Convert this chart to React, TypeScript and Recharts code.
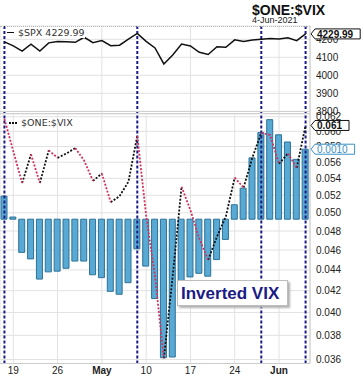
import {
  ComposedChart,
  Line,
  Bar,
  XAxis,
  YAxis,
  CartesianGrid,
  ReferenceLine,
  LabelList,
} from "recharts";

const dates = [
  "Apr 16", "Apr 19", "Apr 20", "Apr 21", "Apr 22", "Apr 23",
  "Apr 26", "Apr 27", "Apr 28", "Apr 29", "Apr 30",
  "May 3", "May 4", "May 5", "May 6", "May 7",
  "May 10", "May 11", "May 12", "May 13", "May 14",
  "May 17", "May 18", "May 19", "May 20", "May 21",
  "May 24", "May 25", "May 26", "May 27", "May 28",
  "Jun 1", "Jun 2", "Jun 3", "Jun 4",
];

const spx = [
  4185.5, 4163.3, 4134.9, 4173.4, 4135.0, 4180.2,
  4187.6, 4186.7, 4183.2, 4211.5, 4181.2,
  4192.7, 4164.7, 4167.6, 4201.6, 4232.6,
  4188.4, 4152.1, 4063.0, 4112.5, 4173.9,
  4163.3, 4127.8, 4115.7, 4159.1, 4155.9,
  4197.1, 4188.1, 4196.0, 4200.9, 4204.1,
  4202.0, 4208.1, 4192.9, 4229.99,
];

// $ONE:$VIX (inverted VIX)
const ratio = [
  0.0617, 0.0574, 0.05345, 0.0570, 0.05345, 0.0575,
  0.05655, 0.0571, 0.0578, 0.0562, 0.0537,
  0.0546, 0.0512, 0.0519, 0.0536, 0.0594,
  0.0497, 0.0434, 0.0361, 0.0434, 0.0530,
  0.0503, 0.0472, 0.0450, 0.0474, 0.0496,
  0.0541, 0.0529, 0.0566, 0.0598, 0.0595,
  0.0558, 0.0571, 0.0553, 0.0608,
];

// histogram overlay
const histo = [
  0.00032, 0.00003, -0.00046, -0.00055, -0.00083, -0.00073,
  -0.00072, -0.00068, -0.00058, -0.00058, -0.00077,
  -0.00081, -0.001, -0.00104, -0.00088, -0.00041,
  -0.00065, -0.0011, -0.00192, -0.00191, -0.00099,
  -0.0008, -0.00075, -0.00079, -0.00056, -0.00028,
  0.0002, 0.00043, 0.00085, 0.0012, 0.00138,
  0.00117, 0.00107, 0.00083, 0.00097,
];

const markerDates = ["Apr 16", "May 7", "May 27", "Jun 4"];
const xTicks = ["Apr 19", "Apr 26", "May 3", "May 10", "May 17", "May 24", "Jun 1"];
const xTickText = ["19", "26", "May", "10", "17", "24", "Jun"];
const spxTicks = [3800, 3900, 4000, 4100, 4200];
const ratioTicks = [
  0.036, 0.038, 0.04, 0.042, 0.044, 0.046, 0.048,
  0.05, 0.052, 0.054, 0.056, 0.058, 0.06, 0.062,
];

const FONT = "'Liberation Sans', Arial, sans-serif";
const NAVY = "#1b1b86";
const GRID = "#e2e2e2";
const W = 363;
const AXIS_W = 53;
const LAST = dates.length - 1;

const spxRows = dates.map((date, i) => ({ date, spx: spx[i] }));

// split the dotted line into rising (black) and falling (red) runs
const ratioRows: Record<string, any>[] = dates.map((date, i) => ({
  date,
  ratio: ratio[i],
  histo: histo[i],
}));
{
  let prev = "";
  let key = "";
  const count: Record<string, number> = { up: 0, down: 0 };
  for (let i = 0; i < LAST; i++) {
    const dir = ratio[i + 1] >= ratio[i] ? "up" : "down";
    if (dir !== prev) {
      key = dir + (count[dir]++ % 2);
      prev = dir;
    }
    ratioRows[i][key] = ratio[i];
    ratioRows[i + 1][key] = ratio[i + 1];
  }
}

function Tag({ y, text, color, bold }: { y: number; text: string; color: string; bold?: boolean }) {
  const left = 311;
  const h = 10;
  const w = text.length * 5.6 + 10;
  return (
    <g>
      <path
        d={`M${left},${y} L${left + 4},${y - h / 2} L${left + w},${y - h / 2} L${left + w},${y + h / 2} L${left + 4},${y + h / 2} Z`}
        fill="#fff"
        stroke={color}
      />
      <text x={left + 6} y={y + 3.6} fontSize={10} fontWeight={bold ? "bold" : "normal"} fill={color} fontFamily={FONT}>
        {text}
      </text>
    </g>
  );
}

function DateTick({ x, y, payload }: any) {
  const text = xTickText[xTicks.indexOf(payload.value)];
  const month = isNaN(Number(text));
  return (
    <text x={x} y={y} dy={10.5} textAnchor="middle" fontSize={10} fontWeight={month ? "bold" : "normal"} fill="#222" fontFamily={FONT}>
      {text}
    </text>
  );
}

const yTick = { fontSize: 10, fill: "#222", fontFamily: FONT };

export default function App() {
  return (
    <div style={{ position: "absolute", left: 0, top: 0, width: W, height: 381, background: "#fff", fontFamily: FONT }}>
      <div style={{ position: "absolute", left: 0, top: 0 }}>
        <ComposedChart width={W} height={120} data={spxRows} margin={{ top: 26, right: 0, bottom: 6, left: 0 }}>
          <CartesianGrid stroke={GRID} />
          <XAxis dataKey="date" scale="band" ticks={xTicks} hide />
          <YAxis
            orientation="right"
            width={AXIS_W}
            domain={[3785, 4274]}
            ticks={spxTicks}
            interval={0}
            allowDataOverflow
            axisLine={{ stroke: "#ccc" }}
            tickLine={false}
            tickSize={0}
            tickMargin={6}
            tick={yTick}
          />
          {markerDates.map((d) => (
            <ReferenceLine key={d} x={d} stroke={NAVY} strokeWidth={2} strokeDasharray="3 2" />
          ))}
          <Line dataKey="spx" stroke="#111" strokeWidth={1.5} dot={false} isAnimationActive={false}>
            <LabelList
              dataKey="spx"
              content={(p: any) =>
                p.index === LAST ? <Tag y={p.y} text="4229.99" color="#111" bold /> : null
              }
            />
          </Line>
        </ComposedChart>
      </div>

      <div style={{ position: "absolute", left: 0, top: 106 }}>
        <ComposedChart width={W} height={275} data={ratioRows} margin={{ top: 7.5, right: 0, bottom: 0, left: 0 }}>
          <CartesianGrid stroke={GRID} yAxisId="ratio" />
          <XAxis
            dataKey="date"
            scale="band"
            ticks={xTicks}
            height={17.5}
            axisLine={{ stroke: "#ccc" }}
            tickLine={false}
            tickSize={0}
            tickMargin={0}
            tick={<DateTick />}
            interval={0}
          />
          <YAxis yAxisId="histo" hide domain={[-0.002, 0.001465]} allowDataOverflow />
          <YAxis
            yAxisId="ratio"
            orientation="right"
            width={AXIS_W}
            scale="log"
            domain={[0.03568, 0.06245]}
            ticks={ratioTicks}
            interval={0}
            allowDataOverflow
            axisLine={{ stroke: "#ccc" }}
            tickLine={false}
            tickSize={0}
            tickMargin={6}
            tick={yTick}
            tickFormatter={(v: number) => v.toFixed(3)}
          />
          {markerDates.map((d) => (
            <ReferenceLine key={d} x={d} yAxisId="ratio" stroke={NAVY} strokeWidth={2} strokeDasharray="3 2" />
          ))}
          <Bar yAxisId="histo" dataKey="histo" barSize={6} fill="#58a9d3" stroke="#2d7299" strokeWidth={1} isAnimationActive={false}>
            <LabelList
              dataKey="histo"
              content={(p: any) =>
                p.index === LAST ? <Tag y={p.y} text="0.0010" color="#3b8fc4" /> : null
              }
            />
          </Bar>
          {["up0", "up1"].map((k) => (
            <Line key={k} yAxisId="ratio" dataKey={k} stroke="#111" strokeWidth={1.8} strokeDasharray="2 1.6" dot={false} isAnimationActive={false} />
          ))}
          {["down0", "down1"].map((k) => (
            <Line key={k} yAxisId="ratio" dataKey={k} stroke="#d2315c" strokeWidth={1.8} strokeDasharray="2 1.6" dot={false} isAnimationActive={false} />
          ))}
          <Line yAxisId="ratio" dataKey="ratio" stroke="none" dot={false} isAnimationActive={false}>
            <LabelList
              dataKey="ratio"
              content={(p: any) =>
                p.index === LAST ? <Tag y={p.y} text="0.061" color="#111" bold /> : null
              }
            />
          </Line>
        </ComposedChart>
      </div>

      {/* panel edges */}
      <div style={{ position: "absolute", left: 0, top: 26, width: 310, borderTop: "1px dotted #bbb" }} />
      <div style={{ position: "absolute", left: 0, top: 111, width: 310, height: 1, borderTop: "1px solid #d0d0d0", borderBottom: "1px solid #d0d0d0" }} />

      {/* title */}
      <div style={{ position: "absolute", left: 252, top: 2, fontSize: 14, fontWeight: "bold", fontFamily: "'Liberation Sans Narrow', 'Liberation Sans', Arial", color: "#111", whiteSpace: "nowrap" }}>
        $ONE:$VIX
      </div>
      <div style={{ position: "absolute", left: 252, top: 15, fontSize: 9, color: "#222", whiteSpace: "nowrap" }}>
        4-Jun-2021
      </div>

      {/* legends */}
      <div style={{ position: "absolute", left: 7, top: 27, fontSize: 9.5, lineHeight: "11px", color: "#333", background: "#fff", fontFamily: "'DejaVu Sans', sans-serif", whiteSpace: "nowrap", display: "flex", alignItems: "center" }}>
        <span style={{ display: "inline-block", width: 7, borderTop: "1.5px solid #111", marginRight: 4 }} />
        $SPX 4229.99
      </div>
      <div style={{ position: "absolute", left: 9, top: 117, fontSize: 9.5, lineHeight: "11px", color: "#333", fontFamily: "'DejaVu Sans', sans-serif", whiteSpace: "nowrap", display: "flex", alignItems: "center" }}>
        <span style={{ display: "inline-block", width: 8, borderTop: "2px dotted #111", marginRight: 4 }} />
        $ONE:$VIX
      </div>

      {/* annotation */}
      <div style={{ position: "absolute", left: 177, top: 280, width: 111, height: 26, background: "#fff", border: "1px solid #bdbdbd", boxShadow: "2px 2px 2px #b0b0b0", color: NAVY, fontWeight: "bold", fontSize: 17, lineHeight: "26px", paddingLeft: 3, boxSizing: "border-box", whiteSpace: "nowrap" }}>
        Inverted VIX
      </div>
    </div>
  );
}
